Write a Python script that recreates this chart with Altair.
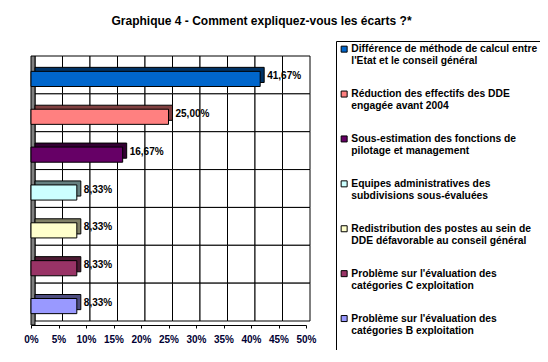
import altair as alt
import pandas as pd

categories = [
    "Différence de méthode de calcul entre|l'Etat et le conseil général",
    "Réduction des effectifs des DDE|engagée avant 2004",
    "Sous-estimation des fonctions de|pilotage et management",
    "Equipes administratives des|subdivisions sous-évaluées",
    "Redistribution des postes au sein de|DDE défavorable au conseil général",
    "Problème sur l'évaluation des|catégories C exploitation",
    "Problème sur l'évaluation des|catégories B exploitation",
]
values = [41.67, 25.00, 16.67, 8.33, 8.33, 8.33, 8.33]
colors = ["#0066CC", "#FF8080", "#660066", "#CCFFFF", "#FFFFCC", "#993366", "#9999FF"]
dark_colors = ["#003366", "#804040", "#330033", "#668080", "#808066", "#4D1A33", "#4D4D80"]
x_ticks = [0, 5, 10, 15, 20, 25, 30, 35, 40, 45, 50]

FONT = "Liberation Sans"
N = len(categories)
STEP = x_ticks[1] - x_ticks[0]
TICK_ARRAY = "[" + ",".join(str(t) for t in x_ticks[:-1]) + "]"

df = pd.DataFrame({"cat": categories, "v": values, "i": list(range(N))})

xscale = alt.Scale(domain=[x_ticks[0], x_ticks[-1]], nice=False)
yscale = alt.Scale(domain=[0, N], nice=False, zero=False, reverse=True)
xaxis = alt.Axis(
    values=x_ticks,
    labelExpr="datum.value + '%'",
    labelOverlap=False,
    labelFlush=False,
    title=None,
    grid=False,
    domain=True,
    domainColor="black",
    domainWidth=1,
    ticks=True,
    tickColor="black",
    tickWidth=1,
    tickSize=3,
    labelFont=FONT,
    labelFontSize=10,
    labelFontWeight="bold",
    labelColor="#000033",
    labelPadding=6,
)

base = alt.Chart(df)

# back wall grid cells (shifted up/right for the 3D depth)
cells = base.transform_calculate(c0=TICK_ARRAY).transform_flatten(["c0"]).transform_calculate(
    c1=f"datum.c0 + {STEP}", r0="datum.i", r1="datum.i + 1", g="'grid'"
).mark_bar(
    stroke="black", strokeWidth=1, opacity=1, xOffset=4, x2Offset=4, yOffset=-4, y2Offset=-4
).encode(
    x=alt.X("c0:Q", scale=xscale, axis=xaxis),
    x2="c1:Q",
    y=alt.Y("r0:Q", scale=yscale, axis=None),
    y2="r1:Q",
    color=alt.Color("g:N", scale=alt.Scale(domain=["grid"], range=["white"]), legend=None),
)

# left side wall
wall = base.transform_filter("datum.i == 0").transform_calculate(
    t=str(x_ticks[0]), y0="0", y1=str(N), g="'wall'"
).mark_bar(
    stroke="black", strokeWidth=1, opacity=1, x2Offset=4, yOffset=-4
).encode(
    x=alt.X("t:Q", scale=xscale, axis=xaxis),
    x2="t:Q",
    y=alt.Y("y0:Q", scale=yscale, axis=None),
    y2="y1:Q",
    color=alt.Color("g:N", scale=alt.Scale(domain=["wall"], range=["#808080"]), legend=None),
)

bars = base.transform_calculate(
    b0="datum.i + 0.3", b1="datum.i + 0.7", x0="0"
)

depth = bars.mark_bar(stroke="black", strokeWidth=1, xOffset=4, x2Offset=4, yOffset=-4, y2Offset=-4).encode(
    x=alt.X("v:Q", scale=xscale, axis=xaxis),
    x2="x0:Q",
    y=alt.Y("b0:Q", scale=yscale, axis=None),
    y2="b1:Q",
    color=alt.Color("cat:N", scale=alt.Scale(domain=categories, range=dark_colors), legend=None),
)

front = bars.mark_bar(stroke="black", strokeWidth=1).encode(
    x=alt.X("v:Q", scale=xscale, axis=xaxis),
    x2="x0:Q",
    y=alt.Y("b0:Q", scale=yscale, axis=None),
    y2="b1:Q",
    fill=alt.Fill(
        "cat:N",
        scale=alt.Scale(domain=categories, range=colors),
        legend=alt.Legend(
            title=" ",
            titleOrient="bottom",
            titleFontSize=1,
            titlePadding=17,
            orient="none",
            legendX=305,
            legendY=-19,
            labelExpr="split(datum.label, '|')",
            labelFont=FONT,
            labelFontSize=10.3,
            labelFontWeight="bold",
            labelColor="black",
            labelLimit=400,
            labelBaseline="middle",
            labelOffset=2,
            symbolType="square",
            symbolSize=36,
            symbolStrokeColor="black",
            symbolStrokeWidth=1,
            rowPadding=21.9,
            padding=3,
            strokeColor="black",
            fillColor="white",
        ),
    ),
)

labels = base.transform_calculate(
    lab="replace(format(datum.v, '.2f'), '.', ',') + '%'", c="datum.i + 0.5"
).mark_text(align="left", baseline="middle", dx=7, dy=-3, font=FONT, fontSize=10, fontWeight="bold", color="black").encode(
    x=alt.X("v:Q", scale=xscale, axis=xaxis),
    y=alt.Y("c:Q", scale=yscale, axis=None),
    text="lab:N",
)

chart = (
    alt.layer(cells, wall, depth, front, labels)
    .resolve_scale(color="independent")
    .properties(
        width=275,
        height=265,
        autosize=alt.AutoSizeParams(type="none"),
        padding={"left": 23, "top": 52, "right": 234, "bottom": 25},
        title=alt.TitleParams(
            "Graphique 4 - Comment expliquez-vous les écarts ?*",
            font=FONT,
            fontSize=12,
            fontWeight="bold",
            color="black",
            anchor="middle",
            frame="group",
            dx=93,
            offset=13,
        ),
    )
    .configure_view(stroke=None)
)

chart.save("out.html", embed_options={"renderer": "svg", "actions": False})
